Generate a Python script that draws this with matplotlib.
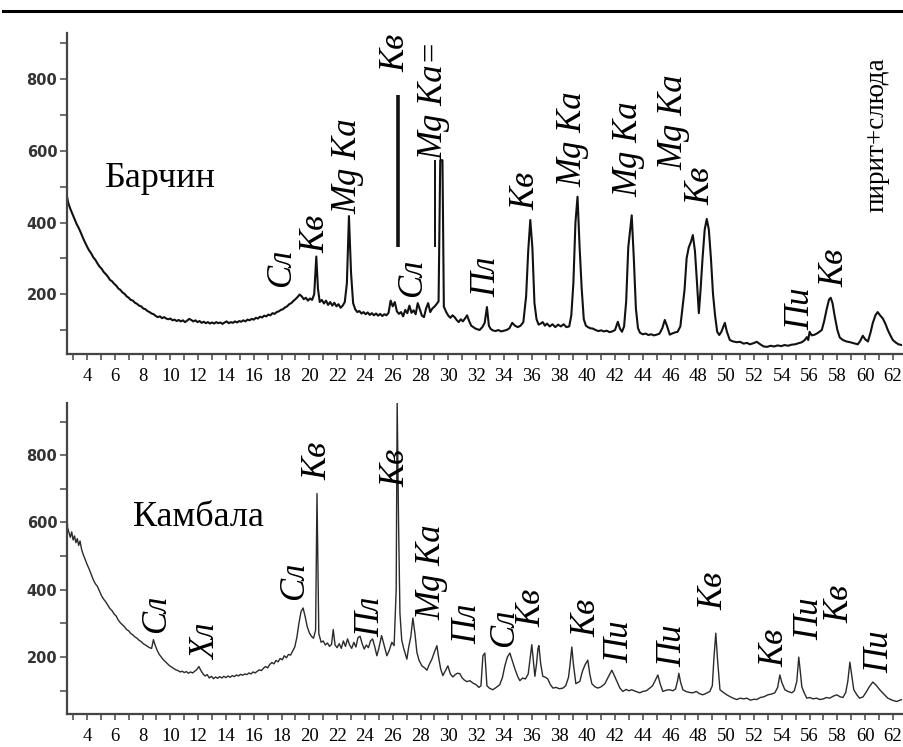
import matplotlib
matplotlib.use("Agg")
import matplotlib.pyplot as plt
from matplotlib.lines import Line2D
from matplotlib.ticker import MultipleLocator

# -----------------------------
# Data: XRD patterns (2theta, counts)
# -----------------------------
barchin_2theta = [
    2.56, 2.65, 2.8, 2.95, 3.1, 3.25, 3.4, 3.55, 3.7, 3.85, 4.0, 4.15, 4.3, 4.45, 4.6, 4.75, 4.9,
    5.05, 5.2, 5.35, 5.5, 5.65, 5.8, 5.95, 6.1, 6.25, 6.4, 6.55, 6.7, 6.85, 7.0, 7.15, 7.3, 7.45,
    7.6, 7.75, 7.9, 8.05, 8.2, 8.35, 8.5, 8.65, 8.8, 8.95, 9.1, 9.25, 9.4, 9.55, 9.7, 9.85, 10.0,
    10.15, 10.3, 10.45, 10.6, 10.75, 10.9, 11.05, 11.2, 11.35, 11.5, 11.65, 11.8, 11.95, 12.1,
    12.25, 12.4, 12.55, 12.7, 12.85, 13.0, 13.15, 13.3, 13.45, 13.6, 13.75, 13.9, 14.05, 14.2,
    14.35, 14.5, 14.65, 14.8, 14.95, 15.1, 15.25, 15.4, 15.55, 15.7, 15.85, 16.0, 16.15, 16.3,
    16.45, 16.6, 16.75, 16.9, 17.05, 17.2, 17.35, 17.5, 17.65, 17.8, 17.95, 18.1, 18.25, 18.4,
    18.55, 18.7, 18.85, 19.0, 19.15, 19.3, 19.45, 19.6, 19.75, 19.9, 20.05, 20.2, 20.35, 20.5,
    20.62, 20.75, 20.9, 21.05, 21.2, 21.35, 21.5, 21.65, 21.8, 21.95, 22.1, 22.25, 22.4, 22.55,
    22.7, 22.85, 23.0, 23.15, 23.3, 23.45, 23.6, 23.75, 23.9, 24.05, 24.2, 24.35, 24.5, 24.65,
    24.8, 24.95, 25.1, 25.25, 25.4, 25.55, 25.7, 25.85, 26.0, 26.15, 26.3, 26.45, 26.6, 26.75,
    26.9, 27.05, 27.2, 27.35, 27.5, 27.65, 27.8, 27.95, 28.1, 28.25, 28.4, 28.55, 28.7, 28.85,
    29.0, 29.15, 29.3, 29.42, 29.58, 29.68, 29.85, 30.0, 30.15, 30.3, 30.45, 30.6, 30.75, 30.9,
    31.05, 31.2, 31.35, 31.5, 31.65, 31.8, 31.95, 32.1, 32.25, 32.45, 32.62, 32.78, 32.92, 33.05,
    33.2, 33.4, 33.6, 33.8, 34.0, 34.2, 34.4, 34.6, 34.8, 35.0, 35.2, 35.4, 35.6, 35.75, 35.9,
    36.05, 36.2, 36.35, 36.5, 36.65, 36.8, 36.95, 37.1, 37.3, 37.5, 37.7, 37.9, 38.1, 38.3, 38.5,
    38.7, 38.85, 39.0, 39.15, 39.3, 39.45, 39.6, 39.75, 39.9, 40.05, 40.2, 40.4, 40.6, 40.8,
    41.0, 41.2, 41.4, 41.6, 41.8, 42.0, 42.2, 42.35, 42.5, 42.65, 42.8, 42.95, 43.2, 43.35, 43.5,
    43.65, 43.8, 44.0, 44.2, 44.4, 44.6, 44.8, 45.0, 45.2, 45.4, 45.58, 45.75, 45.94, 46.1, 46.3,
    46.5, 46.7, 46.85, 47.0, 47.15, 47.3, 47.45, 47.6, 47.75, 47.9, 48.03, 48.15, 48.3, 48.45,
    48.6, 48.75, 48.9, 49.05, 49.2, 49.35, 49.5, 49.65, 49.9, 50.05, 50.26, 50.5, 50.75, 51.0,
    51.25, 51.5, 51.7, 51.95, 52.2, 52.45, 52.7, 52.95, 53.2, 53.45, 53.7, 53.95, 54.2, 54.45,
    54.7, 54.95, 55.2, 55.45, 55.65, 55.8, 55.9, 56.0, 56.15, 56.37, 56.6, 56.88, 57.05, 57.24,
    57.4, 57.52, 57.65, 57.8, 58.0, 58.17, 58.4, 58.65, 58.9, 59.2, 59.47, 59.65, 59.83, 60.0,
    60.2, 60.4, 60.55, 60.75, 60.9, 61.05, 61.27, 61.45, 61.63, 61.8, 61.99, 62.2, 62.4, 62.63,
]
barchin_counts = [
    472, 455, 438, 424, 410, 396, 385, 372, 358, 345, 333, 322, 314, 303, 296, 286, 277,
    271, 262, 256, 249, 240, 236, 229, 224, 216, 212, 205, 201, 194, 190, 184, 182, 176,
    173, 168, 166, 160, 158, 153, 150, 146, 144, 139, 136, 138, 133, 136, 132, 130, 132,
    127, 129, 125, 128, 124, 127, 122, 126, 131, 128, 124, 127, 122, 125,
    120, 123, 119, 122, 118, 121, 118, 122, 119, 121, 117, 121, 124, 119,
    122, 120, 124, 121, 125, 123, 127, 124, 129, 127, 131, 129, 134, 132,
    137, 135, 140, 138, 143, 141, 147, 145, 150, 152, 156, 158, 163, 166,
    172, 175, 181, 186, 192, 199, 194, 186, 190, 182, 188, 184, 200, 305,
    215, 178, 184, 174, 182, 170, 178, 168, 176, 166, 172, 162, 168, 178,
    230, 418, 260, 175, 158, 150, 153, 146, 150, 144, 149, 142, 147, 141,
    146, 140, 145, 139, 144, 141, 148, 182, 166, 178, 152, 145, 150, 138,
    156, 147, 168, 148, 155, 144, 175, 158, 140, 136, 160, 175, 150, 160,
    165, 172, 180, 574, 574, 165, 150, 140, 134, 141, 136, 128, 122, 130,
    124, 132, 141, 125, 112, 108, 104, 102, 100, 108, 120, 164, 112, 103,
    99, 97, 100, 96, 98, 100, 105, 120, 112, 108, 112, 122, 194, 320, 407,
    330, 175, 130, 115, 118, 122, 112, 118, 110, 116, 108, 115, 110, 116, 108,
    110, 140, 230, 400, 472, 330, 215, 130, 112, 108, 105, 104, 100, 97,
    99, 96, 98, 94, 96, 100, 123, 104, 95, 110, 180, 330, 420, 300, 160,
    105, 92, 88, 90, 86, 88, 85, 87, 90, 105, 128, 110, 87, 90, 93,
    95, 110, 160, 212, 300, 330, 345, 365, 320, 230, 147, 210, 302, 380,
    410, 380, 300, 200, 140, 95, 86, 95, 120, 95, 72, 68, 66, 67,
    62, 64, 60, 63, 67, 60, 54, 53, 56, 54, 57, 55, 58, 56,
    59, 60, 63, 66, 72, 80, 72, 95, 85, 87, 92, 100, 125, 160,
    185, 190, 175, 140, 100, 79, 72, 68, 66, 63, 60, 70, 84, 74,
    68, 95, 120, 142, 150, 142, 132, 118, 100, 86, 72, 65, 60, 58,
]

kambala_2theta = [
    2.56, 2.6, 2.7, 2.8, 2.9, 3.0, 3.1, 3.2, 3.3, 3.4, 3.5, 3.6, 3.7, 3.85, 4.0, 4.15, 4.3,
    4.45, 4.6, 4.75, 4.9, 5.05, 5.2, 5.35, 5.5, 5.65, 5.8, 5.95, 6.1, 6.25, 6.4, 6.55, 6.7,
    6.85, 7.0, 7.15, 7.3, 7.45, 7.6, 7.75, 7.9, 8.05, 8.2, 8.35, 8.5, 8.65, 8.78, 8.9, 9.05,
    9.2, 9.35, 9.5, 9.65, 9.8, 9.95, 10.1, 10.25, 10.4, 10.55, 10.7, 10.85, 11.0, 11.15, 11.3,
    11.45, 11.6, 11.75, 11.9, 12.05, 12.2, 12.35, 12.5, 12.65, 12.8, 12.95, 13.1, 13.25, 13.4,
    13.55, 13.7, 13.85, 14.0, 14.15, 14.3, 14.45, 14.6, 14.75, 14.9, 15.05, 15.2, 15.35, 15.5,
    15.65, 15.8, 15.95, 16.1, 16.25, 16.4, 16.55, 16.7, 16.85, 17.0, 17.15, 17.3, 17.45, 17.6,
    17.75, 17.9, 18.05, 18.2, 18.35, 18.5, 18.65, 18.8, 18.95, 19.1, 19.25, 19.4, 19.55, 19.7,
    19.85, 20.0, 20.15, 20.3, 20.45, 20.55, 20.68, 20.85, 21.0, 21.15, 21.3, 21.45, 21.6, 21.72,
    21.85, 22.0, 22.15, 22.3, 22.45, 22.6, 22.75, 22.9, 23.05, 23.2, 23.35, 23.5, 23.65, 23.8,
    23.95, 24.1, 24.25, 24.4, 24.55, 24.7, 24.86, 25.0, 25.2, 25.35, 25.58, 25.75, 25.94, 26.1,
    26.25, 26.32, 26.42, 26.52, 26.65, 26.8, 27.02, 27.15, 27.3, 27.45, 27.6, 27.74, 27.9, 28.1,
    28.3, 28.46, 28.65, 28.82, 29.0, 29.18, 29.3, 29.45, 29.61, 29.8, 29.97, 30.15, 30.33, 30.5,
    30.65, 30.83, 31.0, 31.15, 31.34, 31.55, 31.77, 32.0, 32.2, 32.35, 32.49, 32.63, 32.78,
    32.95, 33.2, 33.45, 33.7, 33.9, 34.07, 34.25, 34.43, 34.6, 34.8, 35.0, 35.15, 35.35, 35.55,
    35.75, 35.9, 36.01, 36.12, 36.23, 36.35, 36.45, 36.52, 36.65, 36.8, 37.0, 37.16, 37.35,
    37.53, 37.75, 38.0, 38.25, 38.45, 38.65, 38.75, 38.89, 39.0, 39.18, 39.35, 39.47, 39.6,
    39.68, 39.85, 40.04, 40.18, 40.33, 40.55, 40.76, 41.0, 41.27, 41.5, 41.77, 41.95, 42.13,
    42.35, 42.56, 42.8, 43.0, 43.2, 43.5, 43.78, 44.0, 44.25, 44.5, 44.7, 44.86, 45.08, 45.25,
    45.44, 45.7, 45.94, 46.15, 46.35, 46.5, 46.59, 46.72, 46.88, 47.1, 47.35, 47.6, 47.85,
    48.05, 48.3, 48.55, 48.82, 49.0, 49.12, 49.25, 49.38, 49.55, 49.8, 50.04, 50.3, 50.5,
    50.76, 51.0, 51.25, 51.48, 51.75, 52.0, 52.2, 52.45, 52.7, 53.0, 53.25, 53.5, 53.7, 53.86,
    54.0, 54.22, 54.45, 54.72, 54.9, 55.08, 55.22, 55.35, 55.44, 55.6, 55.8, 56.0, 56.25,
    56.5, 56.73, 57.0, 57.2, 57.45, 57.7, 57.96, 58.2, 58.4, 58.6, 58.75, 58.9, 59.05, 59.18,
    59.4, 59.6, 59.85, 60.1, 60.3, 60.55, 60.8, 61.05, 61.3, 61.63, 61.95, 62.27, 62.5, 62.65,
]
kambala_counts = [
    625, 585, 570, 556, 572, 548, 560, 540, 552, 532, 545, 522, 508, 492, 476, 462, 446,
    430, 418, 410, 396, 382, 372, 364, 354, 344, 338, 328, 322, 310, 302, 296, 290,
    282, 278, 270, 266, 260, 256, 250, 246, 240, 236, 232, 228, 226, 252, 236, 220,
    208, 200, 192, 186, 180, 174, 170, 166, 162, 160, 156, 158, 154, 157, 152,
    156, 153, 158, 163, 172, 160, 150, 144, 148, 138, 143, 136, 141, 137,
    142, 138, 143, 139, 144, 140, 145, 142, 147, 144, 149, 146, 150, 148,
    153, 150, 156, 153, 158, 162, 160, 167, 172, 168, 178, 184, 180, 190,
    186, 196, 192, 204, 198, 208, 206, 218, 230, 258, 300, 335, 346, 320,
    290, 272, 262, 256, 280, 686, 270, 244, 248, 236, 242, 232, 238, 282,
    236, 228, 240, 226, 248, 232, 254, 236, 226, 244, 230, 258, 262, 240,
    224, 236, 228, 248, 254, 232, 204, 226, 264, 240, 204, 220, 244, 234,
    400, 960, 600, 330, 250, 224, 194, 230, 260, 316, 270, 214, 190, 174,
    168, 161, 180, 194, 215, 234, 200, 165, 145, 160, 174, 150, 141, 148,
    152, 151, 138, 132, 127, 130, 123, 118, 110, 115, 204, 212, 115,
    108, 103, 110, 118, 140, 174, 200, 212, 190, 164, 142, 130, 138, 135,
    150, 200, 237, 190, 143, 180, 225, 234, 180, 143, 140, 135, 118,
    108, 110, 106, 108, 115, 140, 174, 230, 180, 121, 125, 128, 150,
    161, 178, 191, 150, 121, 112, 108, 112, 121, 140, 161, 145, 128,
    108, 98, 104, 100, 103, 98, 94, 98, 100, 108, 115, 128, 147, 120,
    98, 102, 103, 100, 105, 130, 152, 125, 103, 98, 95, 94, 98,
    92, 88, 92, 98, 115, 200, 271, 190, 103, 95, 88, 82, 78,
    74, 78, 76, 78, 72, 75, 74, 80, 82, 88, 90, 94, 110, 147,
    125, 103, 98, 94, 100, 128, 200, 150, 112, 95, 78, 80, 76,
    78, 74, 76, 80, 78, 84, 88, 82, 80, 95, 128, 185, 140, 103,
    88, 78, 82, 98, 112, 126, 116, 103, 92, 78, 72, 68, 72, 74,
]

# truncated reflections drawn as bare bars in the upper pattern
barchin_bar_2theta = [26.38, 29.04]
barchin_bar_low = [331, 331]
barchin_bar_high = [755, 574]
barchin_bar_width = [2.6, 1.4]

# peak labels: text, 2theta of label centre, counts at label foot
barchin_label_text = ["Сл", "Кв", "Mg Ka", "Кв", "Сл", "Mg Ka=", "Пл", "Кв", "Mg Ka",
                      "Mg Ka", "Mg Ka", "Кв", "Пи", "Кв"]
barchin_label_x = [18.0, 20.5, 22.8, 26.2, 27.45, 28.96, 32.78, 35.6, 38.96,
                   43.0, 46.2, 48.2, 55.4, 57.8]
barchin_label_y = [219, 314, 425, 819, 192, 574, 192, 435, 498,
                   470, 546, 448, 100, 219]
barchin_note = "пирит+слюда"
barchin_note_x = 60.85
barchin_note_y = 430

kambala_label_text = ["Сл", "Хл", "Сл", "Кв", "Пл", "Кв", "Mg Ka", "Пл", "Сл", "Кв",
                      "Кв", "Пи", "Пи", "Кв", "Кв", "Пи", "Кв", "Пи"]
kambala_label_x = [9.04, 12.6, 18.96, 20.6, 24.43, 26.23, 28.82, 31.4, 34.07, 36.0,
                   40.0, 42.35, 46.16, 49.1, 53.5, 56.0, 58.2, 61.05]
kambala_label_y = [271, 190, 369, 725, 260, 706, 310, 240, 230, 290,
                   260, 182, 171, 339, 171, 250, 300, 152]

x_ticks = list(range(4, 63, 2))
y_ticks = [200, 400, 600, 800]

# -----------------------------
# Figure
# -----------------------------
fig = plt.figure(figsize=(9.04, 7.47), dpi=100)
fig.add_artist(Line2D([3 / 904, 1.0], [1 - 11 / 747, 1 - 11 / 747], color="black", lw=2.2))

ax_top = fig.add_axes([67 / 904, 1 - 354 / 747, 835 / 904, 321 / 747])
ax_bot = fig.add_axes([67 / 904, 1 - 714 / 747, 835 / 904, 311 / 747])

serif = "Liberation Serif"


def style_axis(ax, ylim):
    ax.set_xlim(2.56, 62.65)
    ax.set_ylim(*ylim)
    for side in ["top", "right"]:
        ax.spines[side].set_visible(False)
    for side in ["left", "bottom"]:
        ax.spines[side].set_color("#444444")
        ax.spines[side].set_linewidth(1.6)
    ax.set_xticks(x_ticks)
    ax.set_xticklabels([str(t) for t in x_ticks], family=serif, fontsize=13.5)
    ax.xaxis.set_minor_locator(MultipleLocator(1))
    ax.set_yticks(y_ticks)
    ax.set_yticklabels([str(t) for t in y_ticks], family="DejaVu Sans",
                       fontweight="bold", fontsize=10.5, color="#333333")
    ax.yaxis.set_minor_locator(MultipleLocator(100))
    ax.tick_params(axis="x", which="both", direction="out", length=4, width=1.2,
                   color="#555555", pad=6)
    ax.tick_params(axis="y", which="both", direction="out", length=5, width=1.2,
                   color="#555555", pad=2)


style_axis(ax_top, (33, 929))
style_axis(ax_bot, (31, 955))

# Barchin
ax_top.plot(barchin_2theta, barchin_counts, color="#111111", lw=1.5)
for x, lo, hi, w in zip(barchin_bar_2theta, barchin_bar_low, barchin_bar_high, barchin_bar_width):
    ax_top.vlines(x, lo, hi, color="#111111", lw=w)
ax_top.text(9.25, 523, "Барчин", family=serif, fontsize=26, ha="center", va="center")
for t, x, y in zip(barchin_label_text, barchin_label_x, barchin_label_y):
    ax_top.text(x, y, t, family=serif, style="italic", fontsize=25, rotation=90,
                ha="center", va="bottom", clip_on=False)
ax_top.text(barchin_note_x, barchin_note_y, barchin_note, family=serif, fontsize=19.5,
            rotation=90, ha="center", va="bottom", clip_on=False)

# Kambala
ax_bot.plot(kambala_2theta, kambala_counts, color="#2a2a2a", lw=1.0)
ax_bot.text(12.0, 616, "Камбала", family=serif, fontsize=26, ha="center", va="center")
for t, x, y in zip(kambala_label_text, kambala_label_x, kambala_label_y):
    ax_bot.text(x, y, t, family=serif, style="italic", fontsize=25, rotation=90,
                ha="center", va="bottom", clip_on=False)

fig.savefig("out.png", dpi=100)
plt.close(fig)
print("done")
